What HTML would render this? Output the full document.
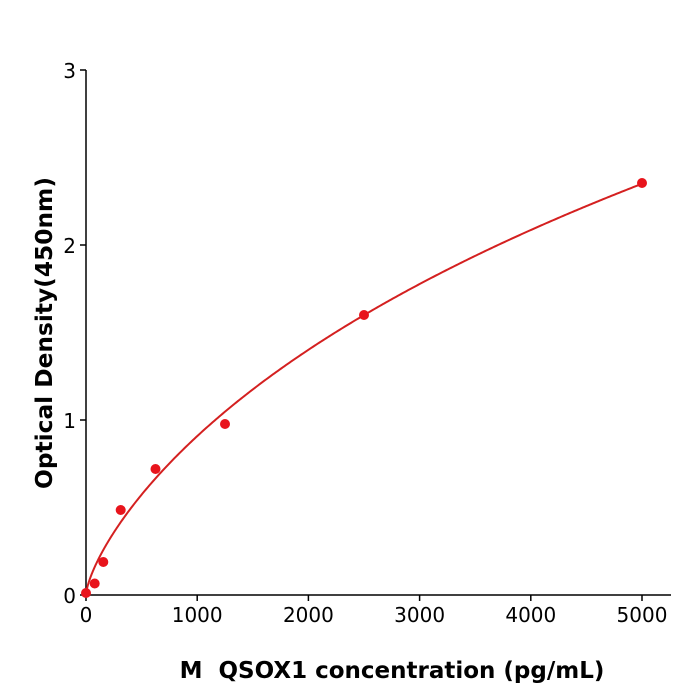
<!DOCTYPE html>
<html><head><meta charset="utf-8"><style>
html,body{margin:0;padding:0;background:#fff;width:700px;height:700px;overflow:hidden}
text{font-family:"DejaVu Sans","Liberation Sans",sans-serif}
</style></head><body>
<svg id="s" width="700" height="700" viewBox="0 0 700 700" xmlns="http://www.w3.org/2000/svg">
<g stroke="#000" stroke-width="1.5" fill="none">
<line x1="86" y1="70" x2="86" y2="596"/>
<line x1="85" y1="595" x2="671" y2="595"/>
<line x1="80" y1="70" x2="86" y2="70"/>
<line x1="80" y1="245" x2="86" y2="245"/>
<line x1="80" y1="420" x2="86" y2="420"/>
<line x1="80" y1="595" x2="86" y2="595"/>
<line x1="86" y1="595" x2="86" y2="601"/>
<line x1="197.2" y1="595" x2="197.2" y2="601"/>
<line x1="308.4" y1="595" x2="308.4" y2="601"/>
<line x1="419.6" y1="595" x2="419.6" y2="601"/>
<line x1="530.8" y1="595" x2="530.8" y2="601"/>
<line x1="642" y1="595" x2="642" y2="601"/>
</g>
<g font-size="20" fill="#000" text-anchor="end">
<text x="76" y="78">3</text><text x="76" y="253">2</text><text x="76" y="428">1</text><text x="76" y="603">0</text>
</g>
<g font-size="20" fill="#000" text-anchor="middle">
<text x="86" y="622">0</text><text x="197.2" y="622">1000</text><text x="308.4" y="622">2000</text><text x="419.6" y="622">3000</text><text x="530.8" y="622">4000</text><text x="642" y="622">5000</text>
</g>
<text x="392" y="678" font-size="23" font-weight="bold" text-anchor="middle" xml:space="preserve">M  QSOX1 concentration (pg/mL)</text>
<text transform="translate(52,333) rotate(-90)" font-size="23.3" font-weight="bold" text-anchor="middle">Optical Density(450nm)</text>
<path id="c" fill="none" stroke="#d42020" stroke-width="2"/>
<g fill="#e8141c">
<circle cx="86" cy="593" r="5"/><circle cx="94.7" cy="583.5" r="5"/><circle cx="103.3" cy="562" r="5"/><circle cx="120.7" cy="510" r="5"/><circle cx="155.5" cy="469" r="5"/><circle cx="225" cy="424" r="5"/><circle cx="364" cy="315" r="5"/><circle cx="642" cy="183" r="5"/>
</g>
</svg>
<script>
function f(x){var p=2.35*Math.pow(x/5000,0.6);var u=Math.pow(x/5760,0.85);var q=5*u/(1+u);return (p+q)/2;}
var s="M86,595";
for(var x=1;x<=5000;x+=(x<300?1:15)){s+=" L"+(86+x*0.1112).toFixed(2)+","+(595-f(x)*175).toFixed(2);}
s+=" L642,"+(595-f(5000)*175).toFixed(2);
document.getElementById("c").setAttribute("d",s);
</script>
</body></html>
